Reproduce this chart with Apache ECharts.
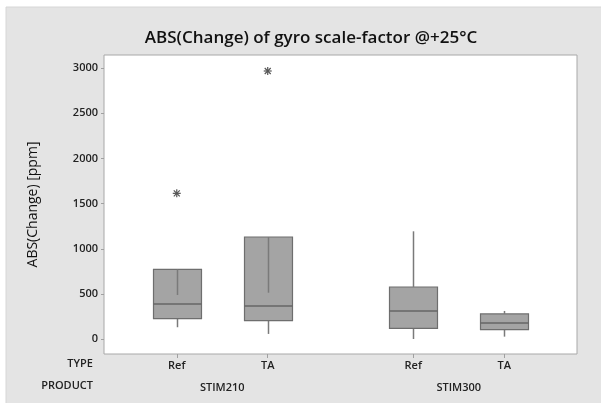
<!DOCTYPE html>
<html><head><meta charset="utf-8">
<script src="https://cdn.jsdelivr.net/npm/echarts@6/dist/echarts.min.js"></script>
<style>html,body{margin:0;padding:0;background:#fff}#c{width:601px;height:403px}</style>
</head><body><div id="c"></div>
<script>
// ---- data ----
var typeLabels = ['Ref', 'TA', 'Ref', 'TA'];
var typePos = [1, 2, 3.6, 4.6];
var productLabels = ['STIM210', 'STIM300'];
var productPos = [1.5, 4.1];
// [low whisker, Q1, median, Q3, high whisker]
var boxStats = [
  [133, 228, 390, 772, 490],
  [59, 206, 368, 1131, 515],
  [3, 121, 313, 578, 1194],
  [29, 106, 180, 280, 313]
];
var outliers = [[1, 1614], [2, 2967]];
var yTicks = [0, 500, 1000, 1500, 2000, 2500, 3000];

var FONT = '"Open Sans", "Noto Sans", sans-serif';
var chart = echarts.init(document.getElementById('c'));
var boxData = boxStats.map(function (s, i) { return [typePos[i]].concat(s); });

chart.setOption({
  animation: false,
  backgroundColor: '#fff',
  graphic: [
    { type: 'rect', z: -10, shape: { x: 6, y: 7, width: 600, height: 400 },
      style: { fill: '#e4e4e4', stroke: '#d6d6d6', lineWidth: 1 } },
    { type: 'text', z: 10, style: { text: 'TYPE', x: 93, y: 364, align: 'right', verticalAlign: 'middle',
      font: '600 11px ' + FONT, fill: '#222' } },
    { type: 'text', z: 10, style: { text: 'PRODUCT', x: 93, y: 386, align: 'right', verticalAlign: 'middle',
      font: '600 11px ' + FONT, fill: '#222' } }
  ],
  title: {
    text: 'ABS(Change) of gyro scale-factor @+25°C',
    left: 306, top: 25, textAlign: 'center',
    textStyle: { fontFamily: FONT, fontSize: 17, fontWeight: 600, color: '#111' }
  },
  grid: { left: 104, top: 55, width: 473, height: 299, show: true, backgroundColor: '#fff',
    borderColor: '#a8a8a8', borderWidth: 1 },
  xAxis: [{
    type: 'value', min: 0.2, max: 5.4,
    axisLine: { show: false, onZero: false }, splitLine: { show: false },
    axisTick: { show: true, customValues: typePos, length: 4, lineStyle: { color: '#a0a0a0' } },
    axisLabel: { customValues: typePos, margin: 6,
      formatter: function (v) { var i = typePos.indexOf(v); return i >= 0 ? typeLabels[i] : ''; },
      fontFamily: FONT, fontSize: 11, fontWeight: 600, color: '#222' }
  }, {
    type: 'value', min: 0.2, max: 5.4, position: 'bottom', offset: 22,
    axisLine: { show: false, onZero: false }, splitLine: { show: false }, axisTick: { show: false },
    axisLabel: { customValues: productPos, margin: 6,
      formatter: function (v) { var i = productPos.indexOf(v); return i >= 0 ? productLabels[i] : ''; },
      fontFamily: FONT, fontSize: 11, fontWeight: 600, color: '#222' }
  }],
  yAxis: {
    type: 'value', min: -163, max: 3144,
    name: 'ABS(Change) [ppm]', nameLocation: 'middle', nameGap: 64,
    nameTextStyle: { fontFamily: FONT, fontSize: 14, color: '#111' },
    axisLine: { show: false, onZero: false }, splitLine: { show: false },
    axisTick: { show: true, customValues: yTicks, length: 3, lineStyle: { color: '#a0a0a0' } },
    axisLabel: { customValues: yTicks, margin: 6, formatter: function (v) { return String(v); },
      fontFamily: FONT, fontSize: 11, fontWeight: 600, color: '#222' }
  },
  series: [{
    type: 'custom',
    xAxisIndex: 0,
    data: boxData,
    encode: { x: 0, y: [1, 2, 3, 4, 5] },
    renderItem: function (params, api) {
      var x = api.value(0);
      var lo = api.coord([x, api.value(1)]);
      var q1 = api.coord([x, api.value(2)]);
      var med = api.coord([x, api.value(3)]);
      var q3 = api.coord([x, api.value(4)]);
      var hi = api.coord([x, api.value(5)]);
      var hw = 24;
      var cx = Math.round(lo[0]) + 0.5;
      return { type: 'group', children: [
        { type: 'line', shape: { x1: cx, y1: q1[1], x2: cx, y2: lo[1] },
          style: { stroke: '#7a7a7a', lineWidth: 1.5 } },
        { type: 'rect', shape: { x: cx - hw, y: q3[1], width: hw * 2, height: q1[1] - q3[1] },
          style: { fill: '#a4a4a4', stroke: '#6e6e6e', lineWidth: 1.2 } },
        { type: 'line', shape: { x1: cx - hw, y1: med[1], x2: cx + hw, y2: med[1] },
          style: { stroke: '#666', lineWidth: 1.5 } },
        { type: 'line', shape: { x1: cx, y1: q3[1], x2: cx, y2: hi[1] },
          style: { stroke: '#7a7a7a', lineWidth: 1.5 } }
      ]};
    }
  }, {
    type: 'custom',
    data: outliers,
    renderItem: function (params, api) {
      var p = api.coord([api.value(0), api.value(1)]);
      var r = 4, d = 3;
      var st = { stroke: '#555', lineWidth: 1.2 };
      return { type: 'group', children: [
        { type: 'line', shape: { x1: p[0], y1: p[1] - r, x2: p[0], y2: p[1] + r }, style: st },
        { type: 'line', shape: { x1: p[0] - r, y1: p[1], x2: p[0] + r, y2: p[1] }, style: st },
        { type: 'line', shape: { x1: p[0] - d, y1: p[1] - d, x2: p[0] + d, y2: p[1] + d }, style: st },
        { type: 'line', shape: { x1: p[0] - d, y1: p[1] + d, x2: p[0] + d, y2: p[1] - d }, style: st }
      ]};
    }
  }]
});
</script></body></html>
